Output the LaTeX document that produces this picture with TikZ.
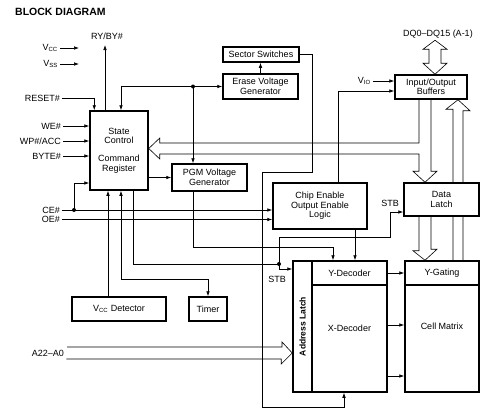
\documentclass[tikz,border=0pt]{standalone}
\usepackage{fontspec}
\setmainfont{Liberation Sans}
\usetikzlibrary{calc}
\usetikzlibrary{arrows.meta}
\pgfdeclarelayer{background}
\pgfsetlayers{background,main}

\begin{document}
\begin{tikzpicture}[x=1pt, y=-1pt,
    font=\fontsize{9}{9.5}\selectfont,
    >={Latex[length=5pt,width=3.6pt]},
    box/.style={draw, line width=1.5pt, fill=white, align=center, inner sep=0pt},
    wire/.style={line width=0.7pt},
    sig/.style={wire, ->},
    bus/.style={line width=0.6pt, line join=miter},
    pinlabel/.style={anchor=east, inner sep=2pt},
    dot/.style={circle, fill, inner sep=0pt, minimum size=4pt}]
    \useasboundingbox (0,0) rectangle (488,415);
    \node[anchor=west, inner sep=2pt, font=\bfseries\fontsize{10.5}{12}\selectfont] (title) at (13,12) {BLOCK DIAGRAM};
    % blocks
    \node[box, minimum width=58, minimum height=79] (sc) at (119,150.5) {State\\Control\\[8.5pt]Command\\Register};
    \node[box, minimum width=76, minimum height=15] (sec) at (261,54.5) {Sector Switches};
    \node[box, minimum width=75, minimum height=25] (erase) at (260.5,86.5) {Erase Voltage\\Generator};
    \node[box, minimum width=75, minimum height=27] (pgm) at (209.5,177.5) {PGM Voltage\\Generator};
    \node[box, minimum width=94, minimum height=46] (ceoe) at (320,206) {Chip Enable\\Output Enable\\Logic};
    \node[box, minimum width=72, minimum height=24] (io) at (431,87) {Input/Output\\Buffers};
    \node[box, minimum width=75, minimum height=33] (dl) at (441.5,199.5) {Data\\Latch};
    \node[box, minimum width=94, minimum height=24] (vccd) at (119,309) {V\textsubscript{CC} Detector};
    \node[box, minimum width=38, minimum height=24] (timer) at (208,309) {Timer};
    % decoders and array
    \node[box, minimum width=19, minimum height=131] (al) at (302.5,326.5) {};
    \node[box, minimum width=75, minimum height=24] (yd) at (349.5,273) {Y-Decoder};
    \node[box, minimum width=75, minimum height=107] (xd) at (349.5,338.5) {};
    \node[box, minimum width=74, minimum height=24] (yg) at (442,273) {Y-Gating};
    \node[box, minimum width=74, minimum height=107] (cm) at (442,338.5) {};
    \node[rotate=90, font=\bfseries\fontsize{8.5}{9.5}\selectfont] (altext) at (al) {Address Latch};
    \node (xdtext) at ($(xd.center)+(0,-10.5)$) {X-Decoder};
    \node (cmtext) at ($(cm.center)+(0,-12.5)$) {Cell Matrix};
    % pins
    \node[pinlabel] (vcc) at (60,48) {V\textsubscript{CC}};
    \node[pinlabel] (vss) at (60,64) {V\textsubscript{SS}};
    \node (ryby) at (107,36) {RY/BY\#};
    \node[pinlabel] (reset) at (62,98) {RESET\#};
    \node[pinlabel] (we) at (63,126) {WE\#};
    \node[pinlabel] (wp) at (63,141) {WP\#/ACC};
    \node[pinlabel] (byte) at (63,156) {BYTE\#};
    \node[pinlabel] (ce) at (62,210) {CE\#};
    \node[pinlabel] (oe) at (62,219.5) {OE\#};
    \node[pinlabel] (addr) at (66,353) {A22--A0};
    \node[pinlabel] (vio) at (373,81) {V\textsubscript{IO}};
    \node (dq) at (438,34) {DQ0--DQ15 (A-1)};
    \node (stbd) at (390,203) {STB};
    \node (stba) at (277,279) {STB};
    \coordinate (vccend) at (79,48);
    \coordinate (ryend) at (105,45);
    \node[dot] (jt) at (193,86.5) {};
    \node[dot] (cedot) at (74,210) {};
    \node[dot] (stbdot) at (279,264) {};
    % supply and control inputs
    \draw[sig] (vcc.east) -- (vcc.east -| vccend);
    \draw[sig] (vss.east) -- (vss.east -| vccend);
    \draw[sig] (ryend |- sc.north) -- (ryend);
    \draw[sig] (reset.east) -| ($(sc.north west)+(5,0)$);
    \draw[sig] (we.east) -- (we.east -| sc.west);
    \draw[sig] (wp.east) -- (wp.east -| sc.west);
    \draw[sig] (byte.east) -- (byte.east -| sc.west);
    \draw[sig] (ce.east) -- (ce.east -| ceoe.west);
    \draw[sig] (oe.east) -- (oe.east -| ceoe.west);
    \draw[sig] (cedot.center) |- ($(sc.west)+(0,32.5)$);
    \draw[sig] (vio.east) -- (vio.east -| io.west);
    % voltage generators
    \draw[sig] (jt.center) -- (erase.west);
    \draw[sig] (jt.center) -| ($(sc.north)+(2,0)$);
    \draw[sig] (jt.center) -- (jt.center |- pgm.north);
    \draw[sig] (erase.north) -- (erase.north |- sec.south);
    \draw[sig] (sec.east) -| (312,172) -| (262,407) -| ($(xd.south)+(-5.5,0)$);
    \draw[sig] (sc.east |- pgm.west) -- (pgm.west);
    \draw[sig] ($(pgm.south)+(-16.5,0)$) -- ++(0,55.5) -| ($(yd.north)+(-16.5,0)$);
    % enable logic
    \draw[sig] ($(ceoe.north)+(18,0)$) |- ($(io.west)+(0,4)$);
    \draw[sig] ($(ceoe.south)+(35,0)$) -- ($(yd.north)+(5.5,0)$);
    % detector, timer, strobe
    \draw[sig] ($(vccd.north)+(-11,0)$) -- ($(sc.south)+(-11,0)$);
    \draw[wire, <->] ($(sc.south)+(2,0)$) |- ($(timer.north)+(0,-17)$) -- (timer.north);
    \draw[wire] ($(sc.south)+(14,0)$) |- (stbdot.center);
    \draw[sig] (stbdot.center) |- ($(al.west)+(0,-57.5)$);
    \draw[sig] (stbdot.center) |- (390,237) |- ($(dl.west)+(0,12.5)$);
    % decoders to array
    \draw[sig] (yd.east) -- (yg.west);
    \draw[sig] ($(xd.east)+(0,-13.5)$) -- ($(cm.west)+(0,-13.5)$);
    \draw[sig] ($(xd.east)+(0,37.5)$) -- ($(cm.west)+(0,37.5)$);
    % buses
    \begin{pgfonlayer}{background}
        \draw[bus] ($(io.south)+(-12,0)$) |- ($(sc.east)+(11,-7.5)$) -- ++(0,-5) -- ($(sc.east)+(0,-2)$) -- ++(11,10.5) -- ++(0,-5) -| ($(dl.north)+(-22.5,-11)$) -- ++(-6,0) -- ($(dl.north)+(-16.5,0)$) -- ++(12,-11) -- ++(-6,0) -- (io.south);
        \draw[bus] ($(dl.south)+(-22.5,0)$) -- ++(0,34) -- ++(-6,0) -- ($(yg.north)+(-17,0)$) -- ++(12,-11) -- ++(-6,0) -- ($(dl.south)+(-10.5,0)$);
        \draw[bus] ($(yg.north)+(11,0)$) -- ++(0,-151) -- ++(-7,0) -- ($(io.south)+(27,0)$) -- ++(12,11) -- ++(-7,0) -- ($(yg.north)+(21,0)$);
        \draw[bus] ($(io.north)+(4,0)$) -- ++(-12,-11) -- ++(6,0) -- ++(0,-14) -- ++(-6,0) -- ++(12,-9) -- ++(12,9) -- ++(-6,0) -- ++(0,14) -- ++(6,0) -- cycle;
        \draw[bus] ($(addr.east)+(1,-6)$) -- ++(215,0) -- ++(0,-5) -- ($(al.west)+(0,26.5)$) -- ++(-11,11) -- ++(0,-5) -- ++(-215,0);
    \end{pgfonlayer}
\end{tikzpicture}
\end{document}
